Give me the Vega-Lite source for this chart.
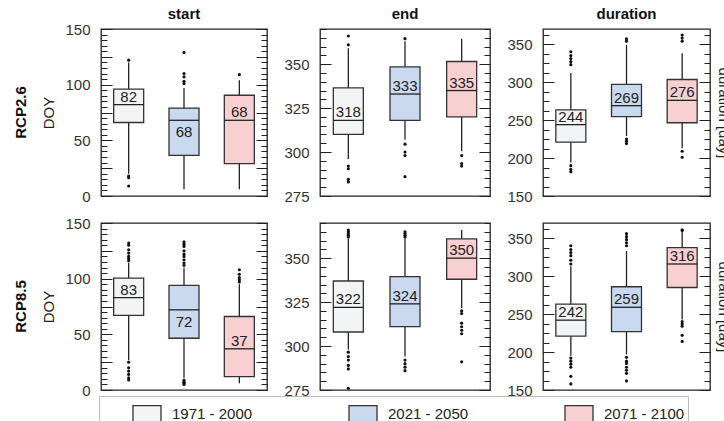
{
  "$schema": "https://vega.github.io/schema/vega-lite/v6.json",
  "padding": {"left": 13, "top": 7, "right": 5, "bottom": 5},
  "data": {
    "values": [
      {"variable": "start", "rcp": "RCP2.6", "period": "1971 - 2000", "lower": 20, "q1": 66, "median": 82, "q3": 96, "upper": 120},
      {"variable": "start", "rcp": "RCP2.6", "period": "2021 - 2050", "lower": 6, "q1": 36.5, "median": 68, "q3": 79, "upper": 97},
      {"variable": "start", "rcp": "RCP2.6", "period": "2071 - 2100", "lower": 6, "q1": 29, "median": 68, "q3": 90.5, "upper": 104},
      {"variable": "end", "rcp": "RCP2.6", "period": "1971 - 2000", "lower": 296, "q1": 310, "median": 318, "q3": 336.5, "upper": 359},
      {"variable": "end", "rcp": "RCP2.6", "period": "2021 - 2050", "lower": 307, "q1": 318, "median": 333, "q3": 348.5, "upper": 363},
      {"variable": "end", "rcp": "RCP2.6", "period": "2071 - 2100", "lower": 300.5, "q1": 320, "median": 335, "q3": 351.5, "upper": 364.5},
      {"variable": "duration", "rcp": "RCP2.6", "period": "1971 - 2000", "lower": 194, "q1": 221, "median": 244, "q3": 263.5, "upper": 312},
      {"variable": "duration", "rcp": "RCP2.6", "period": "2021 - 2050", "lower": 229, "q1": 254.5, "median": 269, "q3": 297, "upper": 349},
      {"variable": "duration", "rcp": "RCP2.6", "period": "2071 - 2100", "lower": 213, "q1": 246.5, "median": 276, "q3": 303.5, "upper": 338},
      {"variable": "start", "rcp": "RCP8.5", "period": "1971 - 2000", "lower": 27, "q1": 67, "median": 83, "q3": 100.5, "upper": 114},
      {"variable": "start", "rcp": "RCP8.5", "period": "2021 - 2050", "lower": 11, "q1": 46.5, "median": 72, "q3": 94, "upper": 110},
      {"variable": "start", "rcp": "RCP8.5", "period": "2071 - 2100", "lower": 6, "q1": 12, "median": 37, "q3": 66, "upper": 95},
      {"variable": "end", "rcp": "RCP8.5", "period": "1971 - 2000", "lower": 298, "q1": 308, "median": 322, "q3": 337, "upper": 361},
      {"variable": "end", "rcp": "RCP8.5", "period": "2021 - 2050", "lower": 294, "q1": 311, "median": 324, "q3": 339.5, "upper": 361},
      {"variable": "end", "rcp": "RCP8.5", "period": "2071 - 2100", "lower": 321.5, "q1": 338, "median": 350, "q3": 361, "upper": 366},
      {"variable": "duration", "rcp": "RCP8.5", "period": "1971 - 2000", "lower": 195, "q1": 221, "median": 242, "q3": 263, "upper": 313},
      {"variable": "duration", "rcp": "RCP8.5", "period": "2021 - 2050", "lower": 197, "q1": 227, "median": 259, "q3": 286, "upper": 333},
      {"variable": "duration", "rcp": "RCP8.5", "period": "2071 - 2100", "lower": 243, "q1": 285, "median": 316, "q3": 337.5, "upper": 358},

      {"variable": "start", "rcp": "RCP2.6", "period": "1971 - 2000", "outlier": 122},
      {"variable": "start", "rcp": "RCP2.6", "period": "1971 - 2000", "outlier": 18},
      {"variable": "start", "rcp": "RCP2.6", "period": "1971 - 2000", "outlier": 16.5},
      {"variable": "start", "rcp": "RCP2.6", "period": "1971 - 2000", "outlier": 9},
      {"variable": "start", "rcp": "RCP2.6", "period": "2021 - 2050", "outlier": 101},
      {"variable": "start", "rcp": "RCP2.6", "period": "2021 - 2050", "outlier": 103},
      {"variable": "start", "rcp": "RCP2.6", "period": "2021 - 2050", "outlier": 107},
      {"variable": "start", "rcp": "RCP2.6", "period": "2021 - 2050", "outlier": 110},
      {"variable": "start", "rcp": "RCP2.6", "period": "2021 - 2050", "outlier": 129},
      {"variable": "start", "rcp": "RCP2.6", "period": "2071 - 2100", "outlier": 109},

      {"variable": "end", "rcp": "RCP2.6", "period": "1971 - 2000", "outlier": 361},
      {"variable": "end", "rcp": "RCP2.6", "period": "1971 - 2000", "outlier": 366},
      {"variable": "end", "rcp": "RCP2.6", "period": "1971 - 2000", "outlier": 292},
      {"variable": "end", "rcp": "RCP2.6", "period": "1971 - 2000", "outlier": 290.5},
      {"variable": "end", "rcp": "RCP2.6", "period": "1971 - 2000", "outlier": 284.5},
      {"variable": "end", "rcp": "RCP2.6", "period": "1971 - 2000", "outlier": 283},
      {"variable": "end", "rcp": "RCP2.6", "period": "2021 - 2050", "outlier": 364.5},
      {"variable": "end", "rcp": "RCP2.6", "period": "2021 - 2050", "outlier": 304.5},
      {"variable": "end", "rcp": "RCP2.6", "period": "2021 - 2050", "outlier": 300},
      {"variable": "end", "rcp": "RCP2.6", "period": "2021 - 2050", "outlier": 298},
      {"variable": "end", "rcp": "RCP2.6", "period": "2021 - 2050", "outlier": 286},
      {"variable": "end", "rcp": "RCP2.6", "period": "2071 - 2100", "outlier": 298},
      {"variable": "end", "rcp": "RCP2.6", "period": "2071 - 2100", "outlier": 293.5},
      {"variable": "end", "rcp": "RCP2.6", "period": "2071 - 2100", "outlier": 292},

      {"variable": "duration", "rcp": "RCP2.6", "period": "1971 - 2000", "outlier": 340},
      {"variable": "duration", "rcp": "RCP2.6", "period": "1971 - 2000", "outlier": 335},
      {"variable": "duration", "rcp": "RCP2.6", "period": "1971 - 2000", "outlier": 331},
      {"variable": "duration", "rcp": "RCP2.6", "period": "1971 - 2000", "outlier": 327},
      {"variable": "duration", "rcp": "RCP2.6", "period": "1971 - 2000", "outlier": 323},
      {"variable": "duration", "rcp": "RCP2.6", "period": "1971 - 2000", "outlier": 190},
      {"variable": "duration", "rcp": "RCP2.6", "period": "1971 - 2000", "outlier": 185},
      {"variable": "duration", "rcp": "RCP2.6", "period": "1971 - 2000", "outlier": 182},
      {"variable": "duration", "rcp": "RCP2.6", "period": "2021 - 2050", "outlier": 354},
      {"variable": "duration", "rcp": "RCP2.6", "period": "2021 - 2050", "outlier": 357},
      {"variable": "duration", "rcp": "RCP2.6", "period": "2021 - 2050", "outlier": 225},
      {"variable": "duration", "rcp": "RCP2.6", "period": "2021 - 2050", "outlier": 222},
      {"variable": "duration", "rcp": "RCP2.6", "period": "2021 - 2050", "outlier": 219},
      {"variable": "duration", "rcp": "RCP2.6", "period": "2071 - 2100", "outlier": 354},
      {"variable": "duration", "rcp": "RCP2.6", "period": "2071 - 2100", "outlier": 358},
      {"variable": "duration", "rcp": "RCP2.6", "period": "2071 - 2100", "outlier": 362},
      {"variable": "duration", "rcp": "RCP2.6", "period": "2071 - 2100", "outlier": 209},
      {"variable": "duration", "rcp": "RCP2.6", "period": "2071 - 2100", "outlier": 201},

      {"variable": "start", "rcp": "RCP8.5", "period": "1971 - 2000", "outlier": 116},
      {"variable": "start", "rcp": "RCP8.5", "period": "1971 - 2000", "outlier": 118},
      {"variable": "start", "rcp": "RCP8.5", "period": "1971 - 2000", "outlier": 120},
      {"variable": "start", "rcp": "RCP8.5", "period": "1971 - 2000", "outlier": 123},
      {"variable": "start", "rcp": "RCP8.5", "period": "1971 - 2000", "outlier": 126},
      {"variable": "start", "rcp": "RCP8.5", "period": "1971 - 2000", "outlier": 130},
      {"variable": "start", "rcp": "RCP8.5", "period": "1971 - 2000", "outlier": 132},
      {"variable": "start", "rcp": "RCP8.5", "period": "1971 - 2000", "outlier": 25},
      {"variable": "start", "rcp": "RCP8.5", "period": "1971 - 2000", "outlier": 20},
      {"variable": "start", "rcp": "RCP8.5", "period": "1971 - 2000", "outlier": 17},
      {"variable": "start", "rcp": "RCP8.5", "period": "1971 - 2000", "outlier": 14},
      {"variable": "start", "rcp": "RCP8.5", "period": "1971 - 2000", "outlier": 11},
      {"variable": "start", "rcp": "RCP8.5", "period": "1971 - 2000", "outlier": 9},
      {"variable": "start", "rcp": "RCP8.5", "period": "2021 - 2050", "outlier": 112},
      {"variable": "start", "rcp": "RCP8.5", "period": "2021 - 2050", "outlier": 114},
      {"variable": "start", "rcp": "RCP8.5", "period": "2021 - 2050", "outlier": 117},
      {"variable": "start", "rcp": "RCP8.5", "period": "2021 - 2050", "outlier": 120},
      {"variable": "start", "rcp": "RCP8.5", "period": "2021 - 2050", "outlier": 122},
      {"variable": "start", "rcp": "RCP8.5", "period": "2021 - 2050", "outlier": 125},
      {"variable": "start", "rcp": "RCP8.5", "period": "2021 - 2050", "outlier": 129},
      {"variable": "start", "rcp": "RCP8.5", "period": "2021 - 2050", "outlier": 131},
      {"variable": "start", "rcp": "RCP8.5", "period": "2021 - 2050", "outlier": 133},
      {"variable": "start", "rcp": "RCP8.5", "period": "2021 - 2050", "outlier": 9},
      {"variable": "start", "rcp": "RCP8.5", "period": "2021 - 2050", "outlier": 8},
      {"variable": "start", "rcp": "RCP8.5", "period": "2021 - 2050", "outlier": 7},
      {"variable": "start", "rcp": "RCP8.5", "period": "2021 - 2050", "outlier": 6},
      {"variable": "start", "rcp": "RCP8.5", "period": "2021 - 2050", "outlier": 5},
      {"variable": "start", "rcp": "RCP8.5", "period": "2071 - 2100", "outlier": 97},
      {"variable": "start", "rcp": "RCP8.5", "period": "2071 - 2100", "outlier": 99},
      {"variable": "start", "rcp": "RCP8.5", "period": "2071 - 2100", "outlier": 101},
      {"variable": "start", "rcp": "RCP8.5", "period": "2071 - 2100", "outlier": 104},
      {"variable": "start", "rcp": "RCP8.5", "period": "2071 - 2100", "outlier": 108},

      {"variable": "end", "rcp": "RCP8.5", "period": "1971 - 2000", "outlier": 362},
      {"variable": "end", "rcp": "RCP8.5", "period": "1971 - 2000", "outlier": 363},
      {"variable": "end", "rcp": "RCP8.5", "period": "1971 - 2000", "outlier": 364},
      {"variable": "end", "rcp": "RCP8.5", "period": "1971 - 2000", "outlier": 365},
      {"variable": "end", "rcp": "RCP8.5", "period": "1971 - 2000", "outlier": 366},
      {"variable": "end", "rcp": "RCP8.5", "period": "1971 - 2000", "outlier": 296.5},
      {"variable": "end", "rcp": "RCP8.5", "period": "1971 - 2000", "outlier": 294},
      {"variable": "end", "rcp": "RCP8.5", "period": "1971 - 2000", "outlier": 292},
      {"variable": "end", "rcp": "RCP8.5", "period": "1971 - 2000", "outlier": 289},
      {"variable": "end", "rcp": "RCP8.5", "period": "1971 - 2000", "outlier": 287},
      {"variable": "end", "rcp": "RCP8.5", "period": "1971 - 2000", "outlier": 276},
      {"variable": "end", "rcp": "RCP8.5", "period": "2021 - 2050", "outlier": 362},
      {"variable": "end", "rcp": "RCP8.5", "period": "2021 - 2050", "outlier": 363},
      {"variable": "end", "rcp": "RCP8.5", "period": "2021 - 2050", "outlier": 364},
      {"variable": "end", "rcp": "RCP8.5", "period": "2021 - 2050", "outlier": 365},
      {"variable": "end", "rcp": "RCP8.5", "period": "2021 - 2050", "outlier": 292},
      {"variable": "end", "rcp": "RCP8.5", "period": "2021 - 2050", "outlier": 290},
      {"variable": "end", "rcp": "RCP8.5", "period": "2021 - 2050", "outlier": 288},
      {"variable": "end", "rcp": "RCP8.5", "period": "2021 - 2050", "outlier": 286},
      {"variable": "end", "rcp": "RCP8.5", "period": "2071 - 2100", "outlier": 320},
      {"variable": "end", "rcp": "RCP8.5", "period": "2071 - 2100", "outlier": 318.5},
      {"variable": "end", "rcp": "RCP8.5", "period": "2071 - 2100", "outlier": 313},
      {"variable": "end", "rcp": "RCP8.5", "period": "2071 - 2100", "outlier": 311},
      {"variable": "end", "rcp": "RCP8.5", "period": "2071 - 2100", "outlier": 309},
      {"variable": "end", "rcp": "RCP8.5", "period": "2071 - 2100", "outlier": 307},
      {"variable": "end", "rcp": "RCP8.5", "period": "2071 - 2100", "outlier": 291},

      {"variable": "duration", "rcp": "RCP8.5", "period": "1971 - 2000", "outlier": 316},
      {"variable": "duration", "rcp": "RCP8.5", "period": "1971 - 2000", "outlier": 321},
      {"variable": "duration", "rcp": "RCP8.5", "period": "1971 - 2000", "outlier": 327},
      {"variable": "duration", "rcp": "RCP8.5", "period": "1971 - 2000", "outlier": 331},
      {"variable": "duration", "rcp": "RCP8.5", "period": "1971 - 2000", "outlier": 335},
      {"variable": "duration", "rcp": "RCP8.5", "period": "1971 - 2000", "outlier": 340},
      {"variable": "duration", "rcp": "RCP8.5", "period": "1971 - 2000", "outlier": 192},
      {"variable": "duration", "rcp": "RCP8.5", "period": "1971 - 2000", "outlier": 188},
      {"variable": "duration", "rcp": "RCP8.5", "period": "1971 - 2000", "outlier": 184},
      {"variable": "duration", "rcp": "RCP8.5", "period": "1971 - 2000", "outlier": 180},
      {"variable": "duration", "rcp": "RCP8.5", "period": "1971 - 2000", "outlier": 168},
      {"variable": "duration", "rcp": "RCP8.5", "period": "1971 - 2000", "outlier": 158},
      {"variable": "duration", "rcp": "RCP8.5", "period": "2021 - 2050", "outlier": 340},
      {"variable": "duration", "rcp": "RCP8.5", "period": "2021 - 2050", "outlier": 344},
      {"variable": "duration", "rcp": "RCP8.5", "period": "2021 - 2050", "outlier": 348},
      {"variable": "duration", "rcp": "RCP8.5", "period": "2021 - 2050", "outlier": 352},
      {"variable": "duration", "rcp": "RCP8.5", "period": "2021 - 2050", "outlier": 356},
      {"variable": "duration", "rcp": "RCP8.5", "period": "2021 - 2050", "outlier": 193},
      {"variable": "duration", "rcp": "RCP8.5", "period": "2021 - 2050", "outlier": 188},
      {"variable": "duration", "rcp": "RCP8.5", "period": "2021 - 2050", "outlier": 185},
      {"variable": "duration", "rcp": "RCP8.5", "period": "2021 - 2050", "outlier": 180},
      {"variable": "duration", "rcp": "RCP8.5", "period": "2021 - 2050", "outlier": 176},
      {"variable": "duration", "rcp": "RCP8.5", "period": "2021 - 2050", "outlier": 172},
      {"variable": "duration", "rcp": "RCP8.5", "period": "2021 - 2050", "outlier": 162},
      {"variable": "duration", "rcp": "RCP8.5", "period": "2071 - 2100", "outlier": 360},
      {"variable": "duration", "rcp": "RCP8.5", "period": "2071 - 2100", "outlier": 361},
      {"variable": "duration", "rcp": "RCP8.5", "period": "2071 - 2100", "outlier": 240},
      {"variable": "duration", "rcp": "RCP8.5", "period": "2071 - 2100", "outlier": 237},
      {"variable": "duration", "rcp": "RCP8.5", "period": "2071 - 2100", "outlier": 234},
      {"variable": "duration", "rcp": "RCP8.5", "period": "2071 - 2100", "outlier": 222},
      {"variable": "duration", "rcp": "RCP8.5", "period": "2071 - 2100", "outlier": 214}
    ]
  },
  "spacing": 15,
  "hconcat": [
    {
      "transform": [{"filter": "datum.variable == 'start'"}],
      "facet": {
        "row": {"field": "rcp", "type": "nominal", "sort": ["RCP2.6", "RCP8.5"],
          "header": {"title": null, "labelOrient": "left", "labelAngle": -90, "labelFontWeight": "bold", "labelFontSize": 15, "labelColor": "#111", "labelPadding": 6}},
        "column": {"field": "variable", "type": "nominal",
          "header": {"title": null, "labelFontWeight": "bold", "labelFontSize": 15, "labelColor": "#111", "labelPadding": 6}}
      },
      "spacing": {"row": 25},
      "spec": {
        "width": 166, "height": 167,
        "layer": [
          {"transform": [{"filter": "isValid(datum.median)"}],
           "mark": {"type": "rule", "color": "#222", "strokeWidth": 1.3},
           "encoding": {
             "x": {"field": "period", "type": "nominal", "scale": {"domain": ["1971 - 2000", "2021 - 2050", "2071 - 2100"], "paddingInner": 0, "paddingOuter": 0}, "axis": null},
             "y": {"field": "lower", "type": "quantitative", "scale": {"domain": [0, 150], "nice": false, "zero": false},
                   "axis": {"orient": "left", "title": "DOY", "values": [0, 25, 50, 75, 100, 125, 150], "labelExpr": "datum.value % 50 == 0 ? datum.label : ''",
                            "ticks": false, "domain": false, "grid": true, "gridDash": [11, 144, 11], "gridColor": "#222", "gridWidth": 1.2, "gridOpacity": 1, "labelPadding": 10, "titlePadding": 8}},
             "y2": {"field": "upper"}
           }},
          {"transform": [{"filter": "isValid(datum.median)"}],
           "mark": {"type": "bar", "width": 30, "stroke": "#333", "strokeWidth": 1.3},
           "encoding": {
             "x": {"field": "period", "type": "nominal", "axis": null},
             "y": {"field": "q1", "type": "quantitative", "axis": null},
             "y2": {"field": "q3"},
             "fill": {"field": "period", "type": "nominal",
                      "scale": {"domain": ["1971 - 2000", "2021 - 2050", "2071 - 2100"], "range": ["#f2f4f6", "#c9d9ef", "#f9d0d2"]},
                      "legend": {"orient": "none", "legendX": -2, "legendY": 367, "direction": "horizontal", "title": null,
                                 "symbolType": "M-1,-0.6H1V0.6H-1Z", "symbolSize": 784, "symbolStrokeColor": "#333", "symbolStrokeWidth": 1.3, "symbolOpacity": 1,
                                 "labelFontSize": 15, "labelColor": "#222", "labelOffset": 10, "symbolOffset": 30, "columnPadding": 65,
                                 "padding": 3, "strokeColor": "#bdbdbd", "fillColor": "white"}}
           }},
          {"transform": [{"filter": "isValid(datum.median)"}],
           "mark": {"type": "tick", "size": 30, "thickness": 1.3, "color": "#222", "opacity": 1},
           "encoding": {
             "x": {"field": "period", "type": "nominal", "axis": null},
             "y": {"field": "median", "type": "quantitative", "axis": null}
           }},
          {"transform": [{"filter": "isValid(datum.median) && !(datum.variable == 'start' && datum.period == '2021 - 2050')"}],
           "mark": {"type": "text", "baseline": "alphabetic", "dy": -3, "fontSize": 15, "color": "#222"},
           "encoding": {
             "x": {"field": "period", "type": "nominal", "axis": null},
             "y": {"field": "median", "type": "quantitative", "axis": null},
             "text": {"field": "median", "type": "quantitative", "format": ".0f"}
           }},
          {"transform": [{"filter": "isValid(datum.median) && datum.variable == 'start' && datum.period == '2021 - 2050'"}],
           "mark": {"type": "text", "baseline": "top", "dy": 5, "fontSize": 15, "color": "#222"},
           "encoding": {
             "x": {"field": "period", "type": "nominal", "axis": null},
             "y": {"field": "median", "type": "quantitative", "axis": null},
             "text": {"field": "median", "type": "quantitative", "format": ".0f"}
           }},
          {"transform": [{"filter": "isValid(datum.outlier)"}],
           "mark": {"type": "circle", "size": 10, "color": "#111", "opacity": 1},
           "encoding": {
             "x": {"field": "period", "type": "nominal", "axis": null},
             "y": {"field": "outlier", "type": "quantitative",
                   "axis": {"orient": "right", "title": null, "labels": false, "ticks": false, "domain": false, "grid": true,
                            "values": [0, 5, 10, 15, 20, 25, 30, 35, 40, 45, 50, 55, 60, 65, 70, 75, 80, 85, 90, 95, 100, 105, 110, 115, 120, 125, 130, 135, 140, 145, 150],
                            "gridDash": [6, 154, 6], "gridColor": "#222", "gridWidth": 1.2, "gridOpacity": 1}}
           }}
        ]
      }
    },
    {
      "transform": [{"filter": "datum.variable == 'end'"}],
      "facet": {
        "row": {"field": "rcp", "type": "nominal", "sort": ["RCP2.6", "RCP8.5"], "header": {"title": null, "labels": false}},
        "column": {"field": "variable", "type": "nominal",
          "header": {"title": null, "labelFontWeight": "bold", "labelFontSize": 15, "labelColor": "#111", "labelPadding": 6}}
      },
      "spacing": {"row": 25},
      "spec": {
        "width": 170, "height": 167,
        "layer": [
          {"transform": [{"filter": "isValid(datum.median)"}],
           "mark": {"type": "rule", "color": "#222", "strokeWidth": 1.3},
           "encoding": {
             "x": {"field": "period", "type": "nominal", "scale": {"domain": ["1971 - 2000", "2021 - 2050", "2071 - 2100"], "paddingInner": 0, "paddingOuter": 0}, "axis": null},
             "y": {"field": "lower", "type": "quantitative", "scale": {"domain": [275, 370], "nice": false, "zero": false},
                   "axis": {"orient": "left", "title": null, "values": [275, 300, 325, 350],
                            "ticks": false, "domain": false, "grid": true, "gridDash": [11, 148, 11], "gridColor": "#222", "gridWidth": 1.2, "gridOpacity": 1, "labelPadding": 10}},
             "y2": {"field": "upper"}
           }},
          {"transform": [{"filter": "isValid(datum.median)"}],
           "mark": {"type": "bar", "width": 30, "stroke": "#333", "strokeWidth": 1.3},
           "encoding": {
             "x": {"field": "period", "type": "nominal", "axis": null},
             "y": {"field": "q1", "type": "quantitative", "axis": null},
             "y2": {"field": "q3"},
             "fill": {"field": "period", "type": "nominal", "legend": null,
                      "scale": {"domain": ["1971 - 2000", "2021 - 2050", "2071 - 2100"], "range": ["#f2f4f6", "#c9d9ef", "#f9d0d2"]}}
           }},
          {"transform": [{"filter": "isValid(datum.median)"}],
           "mark": {"type": "tick", "size": 30, "thickness": 1.3, "color": "#222", "opacity": 1},
           "encoding": {
             "x": {"field": "period", "type": "nominal", "axis": null},
             "y": {"field": "median", "type": "quantitative", "axis": null}
           }},
          {"transform": [{"filter": "isValid(datum.median)"}],
           "mark": {"type": "text", "baseline": "alphabetic", "dy": -3, "fontSize": 15, "color": "#222"},
           "encoding": {
             "x": {"field": "period", "type": "nominal", "axis": null},
             "y": {"field": "median", "type": "quantitative", "axis": null},
             "text": {"field": "median", "type": "quantitative", "format": ".0f"}
           }},
          {"transform": [{"filter": "isValid(datum.outlier)"}],
           "mark": {"type": "circle", "size": 10, "color": "#111", "opacity": 1},
           "encoding": {
             "x": {"field": "period", "type": "nominal", "axis": null},
             "y": {"field": "outlier", "type": "quantitative",
                   "axis": {"orient": "right", "title": null, "labels": false, "ticks": false, "domain": false, "grid": true,
                            "values": [275, 280, 285, 290, 295, 300, 305, 310, 315, 320, 325, 330, 335, 340, 345, 350, 355, 360, 365, 370],
                            "gridDash": [6, 158, 6], "gridColor": "#222", "gridWidth": 1.2, "gridOpacity": 1}}
           }}
        ]
      }
    },
    {
      "transform": [{"filter": "datum.variable == 'duration'"}],
      "facet": {
        "row": {"field": "rcp", "type": "nominal", "sort": ["RCP2.6", "RCP8.5"], "header": {"title": null, "labels": false}},
        "column": {"field": "variable", "type": "nominal",
          "header": {"title": null, "labelFontWeight": "bold", "labelFontSize": 15, "labelColor": "#111", "labelPadding": 6}}
      },
      "spacing": {"row": 25},
      "spec": {
        "width": 167, "height": 167,
        "layer": [
          {"transform": [{"filter": "isValid(datum.median)"}],
           "mark": {"type": "rule", "color": "#222", "strokeWidth": 1.3},
           "encoding": {
             "x": {"field": "period", "type": "nominal", "scale": {"domain": ["1971 - 2000", "2021 - 2050", "2071 - 2100"], "paddingInner": 0, "paddingOuter": 0}, "axis": null},
             "y": {"field": "lower", "type": "quantitative", "scale": {"domain": [150, 370], "nice": false, "zero": false},
                   "axis": {"orient": "left", "title": null, "values": [150, 200, 250, 300, 350],
                            "ticks": false, "domain": false, "grid": true, "gridDash": [11, 145, 11], "gridColor": "#222", "gridWidth": 1.2, "gridOpacity": 1, "labelPadding": 10}},
             "y2": {"field": "upper"}
           }},
          {"transform": [{"filter": "isValid(datum.median)"}],
           "mark": {"type": "bar", "width": 30, "stroke": "#333", "strokeWidth": 1.3},
           "encoding": {
             "x": {"field": "period", "type": "nominal", "axis": null},
             "y": {"field": "q1", "type": "quantitative", "axis": null},
             "y2": {"field": "q3"},
             "fill": {"field": "period", "type": "nominal", "legend": null,
                      "scale": {"domain": ["1971 - 2000", "2021 - 2050", "2071 - 2100"], "range": ["#f2f4f6", "#c9d9ef", "#f9d0d2"]}}
           }},
          {"transform": [{"filter": "isValid(datum.median)"}],
           "mark": {"type": "tick", "size": 30, "thickness": 1.3, "color": "#222", "opacity": 1},
           "encoding": {
             "x": {"field": "period", "type": "nominal", "axis": null},
             "y": {"field": "median", "type": "quantitative", "axis": null}
           }},
          {"transform": [{"filter": "isValid(datum.median)"}],
           "mark": {"type": "text", "baseline": "alphabetic", "dy": -3, "fontSize": 15, "color": "#222"},
           "encoding": {
             "x": {"field": "period", "type": "nominal", "axis": null},
             "y": {"field": "median", "type": "quantitative", "axis": null},
             "text": {"field": "median", "type": "quantitative", "format": ".0f"}
           }},
          {"transform": [{"filter": "isValid(datum.outlier)"}],
           "mark": {"type": "circle", "size": 10, "color": "#111", "opacity": 1},
           "encoding": {
             "x": {"field": "period", "type": "nominal", "axis": null},
             "y": {"field": "outlier", "type": "quantitative",
                   "axis": {"orient": "right", "title": "duration [day]", "labels": false, "ticks": false, "domain": false, "grid": true, "titlePadding": 4,
                            "values": [150, 162.5, 175, 187.5, 200, 212.5, 225, 237.5, 250, 262.5, 275, 287.5, 300, 312.5, 325, 337.5, 350, 362.5],
                            "gridDash": [6, 155, 6], "gridColor": "#222", "gridWidth": 1.2, "gridOpacity": 1}}
           }}
        ]
      }
    }
  ],
  "config": {
    "font": "Liberation Sans",
    "view": {"stroke": "#222", "strokeWidth": 1.3},
    "axis": {"labelFontSize": 15, "labelColor": "#333", "titleFontSize": 15, "titleFontWeight": "normal", "titleColor": "#222"},
    "legend": {"labelFont": "Liberation Sans"}
  }
}
